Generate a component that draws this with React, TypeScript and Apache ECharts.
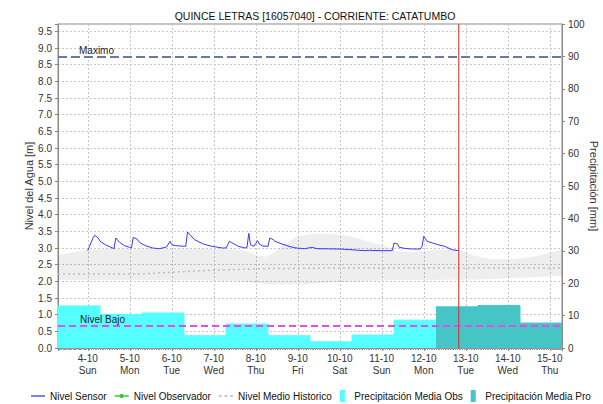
import React, { useEffect, useRef } from 'react';
import * as echarts from 'echarts';

const TITLE = 'QUINCE LETRAS [16057040] - CORRIENTE: CATATUMBO';
const DAY_NAMES = ['Sun', 'Mon', 'Tue', 'Wed', 'Thu', 'Fri', 'Sat'];
const HOUR = 3600000;
const DAY = 24 * HOUR;
const T0 = new Date(2020, 9, 4, 0, 0, 0).getTime(); // 4-10 00:00
const X_MIN_HOUR = -17;
const X_MAX_HOUR = 271;
const NOW_HOUR = 212;
const MAXIMO = 8.75;
const NIVEL_BAJO = 0.68;
const Y_MAX = 9.72;

// Nivel Sensor (hours since 4-10 00:00, metres)
const sensorHours = [0, 1, 3, 4, 6, 7, 10, 13, 15, 16, 18, 21, 24, 25, 26, 28, 30, 33, 37, 41, 45, 47, 48, 50, 56, 57, 58, 61, 66, 71, 77, 79, 81, 82, 86, 90, 91, 92, 93, 95, 97, 98, 100, 103, 104, 106, 107, 111, 115, 119, 124, 128, 131, 144, 153, 158, 161, 167, 174, 175, 177, 178, 181, 185, 190, 191, 192, 194, 197, 200, 204, 208, 212];
const sensorLevels = [2.92, 3.05, 3.3, 3.38, 3.3, 3.2, 3.1, 3.03, 2.98, 3.3, 3.18, 3.07, 3.02, 3.0, 3.32, 3.27, 3.15, 3.07, 3.0, 2.98, 3.03, 3.2, 3.1, 3.07, 3.05, 3.48, 3.42, 3.25, 3.12, 3.05, 3.0, 3.0, 3.2, 3.17, 3.05, 3.0, 3.02, 3.44, 3.1, 3.05, 3.22, 3.12, 3.06, 3.05, 3.3, 3.25, 3.2, 3.12, 3.05, 3.0, 2.98, 3.02, 2.98, 2.97, 2.94, 2.92, 2.93, 2.92, 2.92, 3.15, 3.12, 3.02, 2.99, 2.97, 2.97, 3.05, 3.35, 3.2, 3.15, 3.1, 3.05, 2.95, 2.92];

// Historic band
const bandHours = [-17, -8, 0, 12, 36, 60, 84, 90, 96, 101, 106, 112, 120, 128, 140, 150, 160, 170, 176, 186, 196, 206, 212, 220, 230, 242, 254, 264, 271];
const bandUpper = [2.78, 2.88, 2.95, 2.98, 2.98, 2.98, 2.96, 2.92, 2.8, 2.73, 2.85, 3.1, 3.35, 3.42, 3.42, 3.35, 3.2, 3.05, 2.9, 2.87, 2.93, 2.95, 2.95, 2.78, 2.67, 2.66, 2.74, 2.85, 2.95];
const bandLower = [2.04, 2.04, 2.04, 2.04, 2.04, 2.03, 2.0, 1.98, 1.95, 1.92, 1.91, 1.91, 1.91, 1.93, 1.97, 1.99, 2.01, 2.03, 2.04, 2.04, 2.04, 2.05, 2.05, 2.05, 2.07, 2.09, 2.12, 2.15, 2.17];

// Nivel Medio Historico
const medioHours = [-17, 30, 50, 70, 100, 140, 200, 271];
const medioLevels = [2.22, 2.22, 2.28, 2.33, 2.38, 2.4, 2.4, 2.4];

// Daily precipitation (mm), each day from 07:00
const PRECIP_START_HOUR = -17;
const precipObs = [13.0, 10.4, 10.8, 3.8, 7.4, 3.8, 1.9, 4.0, 8.6];
const precipPro = [12.7, 13.1, 7.7];

const t = (h: number) => T0 + h * HOUR;

function stepData(values: number[], startDay: number) {
  const d: [number, number][] = values.map((v, i) => [t(PRECIP_START_HOUR + 24 * (startDay + i)), v]);
  d.push([t(PRECIP_START_HOUR + 24 * (startDay + values.length)), values[values.length - 1]]);
  return d;
}

export default function App() {
  const ref = useRef<HTMLDivElement>(null);
  useEffect(() => {
    if (!ref.current) return;
    const chart = echarts.init(ref.current, null, { renderer: 'svg' });
    const textColor = '#333';
    const axisColor = '#888';
    const rectIcon = 'path://M0,0H5V12H0Z';
    const lineIcon = 'path://M0,0H14V1.3H0Z';
    const dashIcon = 'path://M0,0H3V1.5H0Z M5.5,0H8.5V1.5H5.5Z M11,0H14V1.5H11Z';
    const obsIcon = 'path://M0,2H14V3.3H0Z M5.5,0.6H8.5V4.7H5.5Z';
    chart.setOption({
      animation: false,
      textStyle: { fontFamily: 'Liberation Sans, Arial, sans-serif' },
      title: {
        text: TITLE,
        left: 310,
        top: 5,
        textAlign: 'center',
        textStyle: { fontSize: 10.5, fontWeight: 'normal', color: '#111' },
      },
      legend: {
        top: 385,
        left: 26,
        itemWidth: 14,
        itemHeight: 12,
        itemGap: 8,
        textStyle: { fontSize: 10, color: '#111' },
        data: [
          { name: 'Nivel Sensor', icon: lineIcon },
          { name: 'Nivel Observador', icon: obsIcon },
          { name: 'Nivel Medio Historico', icon: dashIcon },
          { name: 'Precipitación Media Obs', icon: rectIcon },
          { name: 'Precipitación Media Pro', icon: rectIcon },
        ],
      },
      grid: {
        left: 58,
        right: 41,
        top: 24,
        bottom: 56,
        outerBoundsMode: 'none',
        containLabel: false,
        show: true,
        borderColor: axisColor,
        borderWidth: 1,
      },
      xAxis: {
        type: 'time',
        min: t(X_MIN_HOUR),
        max: t(X_MAX_HOUR),
        minInterval: DAY,
        maxInterval: DAY,
        splitNumber: 12,
        axisLine: { show: true, lineStyle: { color: axisColor } },
        axisTick: { show: true, length: 3, lineStyle: { color: axisColor } },
        minorTick: { show: true, splitNumber: 24, length: 2, lineStyle: { color: '#999' } },
        axisLabel: {
          fontSize: 10,
          color: textColor,
          lineHeight: 12,
          margin: 4,
          showMinLabel: false,
          showMaxLabel: false,
          formatter: (val: number) => {
            const d = new Date(val);
            return `${d.getDate()}-${d.getMonth() + 1}\n${DAY_NAMES[d.getDay()]}`;
          },
        },
        splitLine: { show: true, lineStyle: { color: '#c8c8c8', type: [2, 2] } },
      },
      yAxis: [
        {
          type: 'value',
          min: 0,
          max: Y_MAX,
          interval: 0.5,
          position: 'left',
          name: 'Nivel del Agua [m]',
          nameLocation: 'middle',
          nameGap: 24,
          nameMoveOverlap: false,
          nameTextStyle: { fontSize: 11, color: textColor },
          axisLine: { show: true, lineStyle: { color: axisColor } },
          axisTick: { show: true, length: 3, lineStyle: { color: axisColor } },
          axisLabel: {
            fontSize: 10,
            color: textColor,
            margin: 6,
            formatter: (v: number) => (Math.abs(v * 2 - Math.round(v * 2)) < 1e-6 ? v.toFixed(1) : ''),
          },
          splitLine: { show: true, lineStyle: { color: '#c8c8c8', type: [2, 2] } },
        },
        {
          type: 'value',
          min: 0,
          max: 100,
          interval: 10,
          position: 'right',
          name: 'Precipitación [mm]',
          nameLocation: 'middle',
          nameRotate: -90,
          nameGap: 26,
          nameMoveOverlap: false,
          nameTextStyle: { fontSize: 11, color: textColor },
          axisLine: { show: true, lineStyle: { color: axisColor } },
          axisTick: { show: true, length: 3, lineStyle: { color: axisColor } },
          axisLabel: { fontSize: 10, color: textColor, margin: 6 },
          splitLine: { show: false },
        },
      ],
      series: [
        {
          name: 'bandLow',
          type: 'line',
          stack: 'band',
          symbol: 'none',
          silent: true,
          lineStyle: { width: 0 },
          data: bandHours.map((h, i) => [t(h), bandLower[i]]),
          z: 1,
        },
        {
          name: 'bandHigh',
          type: 'line',
          stack: 'band',
          symbol: 'none',
          silent: true,
          lineStyle: { width: 0 },
          areaStyle: { color: 'rgba(0,0,0,0.065)', opacity: 1 },
          data: bandHours.map((h, i) => [t(h), +(bandUpper[i] - bandLower[i]).toFixed(3)]),
          z: 1,
        },
        {
          name: 'Nivel Medio Historico',
          type: 'line',
          symbol: 'none',
          color: '#bdbdbd',
          itemStyle: { color: '#bdbdbd' },
          lineStyle: { color: '#bdbdbd', width: 1.5, type: [2, 3] },
          data: medioHours.map((h, i) => [t(h), medioLevels[i]]),
          z: 2,
        },
        {
          name: 'Precipitación Media Obs',
          type: 'line',
          yAxisIndex: 1,
          step: 'end',
          symbol: 'none',
          color: '#55FFFF',
          itemStyle: { color: '#55FFFF' },
          lineStyle: { color: '#55FFFF', width: 1 },
          areaStyle: { color: '#55FFFF', opacity: 1 },
          data: stepData(precipObs, 0),
          z: 3,
        },
        {
          name: 'Precipitación Media Pro',
          type: 'line',
          yAxisIndex: 1,
          step: 'end',
          symbol: 'none',
          color: '#45C5C5',
          itemStyle: { color: '#45C5C5' },
          lineStyle: { color: '#45C5C5', width: 1 },
          areaStyle: { color: '#45C5C5', opacity: 1 },
          data: stepData(precipPro, precipObs.length),
          z: 3,
        },
        {
          name: 'Nivel Observador',
          type: 'line',
          symbol: 'rect',
          symbolSize: 4,
          color: '#33CC33',
          itemStyle: { color: '#33CC33' },
          lineStyle: { color: '#33CC33', width: 1 },
          data: [],
          z: 4,
        },
        {
          name: 'Ahora',
          type: 'line',
          symbol: 'none',
          silent: true,
          color: '#E02828',
          lineStyle: { color: '#E02828', width: 1 },
          data: [
            [t(NOW_HOUR), 0],
            [t(NOW_HOUR), Y_MAX],
          ],
          z: 7,
        },
        {
          name: 'Nivel Sensor',
          type: 'line',
          symbol: 'none',
          color: '#3838FF',
          itemStyle: { color: '#3838FF' },
          lineStyle: { color: '#3838FF', width: 1 },
          data: sensorHours.map((h, i) => [t(h), sensorLevels[i]]),
          z: 6,
          markLine: {
            silent: true,
            symbol: 'none',
            animation: false,
            z: 5,
            data: [
              {
                yAxis: MAXIMO,
                lineStyle: { color: '#6B78A6', type: [9, 4], width: 2 },
                label: {
                  show: true,
                  formatter: 'Maximo',
                  position: 'insideStartTop',
                  distance: [21, 1],
                  fontSize: 10,
                  color: '#222',
                },
              },
              {
                yAxis: NIVEL_BAJO,
                lineStyle: { color: '#E84CE8', type: [7, 4], width: 2 },
                label: {
                  show: true,
                  formatter: 'Nivel Bajo',
                  position: 'insideStartTop',
                  distance: [22, 1],
                  fontSize: 10,
                  color: '#222',
                },
              },
            ],
          },
        },
      ],
    });
    return () => chart.dispose();
  }, []);
  return <div ref={ref} style={{ width: 603, height: 404, position: 'absolute', left: 0, top: 0 }} />;
}
